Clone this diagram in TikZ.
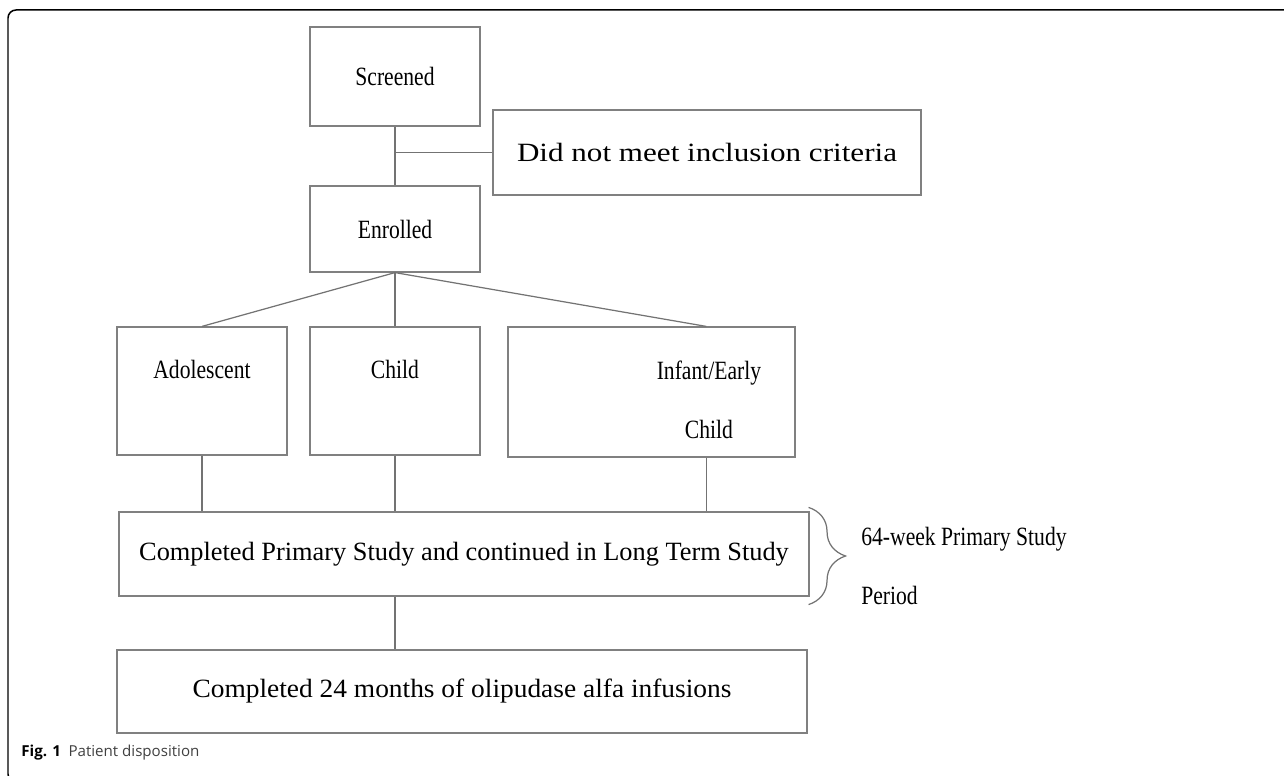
\documentclass[tikz,border=0pt]{standalone}
\usepackage{fontspec}
\setmainfont{Liberation Serif}
\newfontfamily\narrowserif{Liberation Serif}[FakeStretch=0.82]
\newfontfamily\wideserif{Liberation Serif}[FakeStretch=1.18]
\newfontfamily\plainserif{Liberation Serif}[FakeStretch=1.04]
\newfontfamily\capfont{Open Sans}
\newcommand{\boxsize}{\fontsize{15}{33.6}\selectfont}
\newcommand{\toprow}{\rule{0pt}{29pt}}
\usetikzlibrary{calc,decorations.pathreplacing}
\tikzset{
	box/.style={draw=black!50, line width=0.7pt, fill=white, minimum height=#1, inner sep=0pt, align=center, font=\boxsize},
	box/.default=1.7cm,
	narrow/.style={font=\narrowserif\boxsize},
	link/.style={draw=black!55, line width=0.7pt}
}
\begin{document}
\begin{tikzpicture}[x=0.02cm, y=-0.02cm]
	\useasboundingbox (0,0) rectangle (1284,776);
	% outer frame, open to the right
	\draw[line width=0.85pt, rounded corners=0.16cm] (1290,10) -- (8,10) -- (8,782) -- (24,782);

	\node[box=1.98cm, narrow, minimum width=3.4cm] (screen) at (395,76.5) {Screened};
	\node[box=1.7cm, font=\wideserif\boxsize, minimum width=8.56cm] (excl) at (707,152.5) {Did not meet inclusion criteria};
	\node[box=1.72cm, narrow, minimum width=3.4cm] (enrol) at (395,229) {Enrolled};
	\node[box=2.56cm, narrow, minimum width=3.4cm] (adol) at (202,391) {\begin{tabular}{@{}c@{}}\toprow Adolescent\\~\end{tabular}};
	\node[box=2.56cm, narrow, minimum width=3.4cm] (child) at (395,391) {\begin{tabular}{@{}c@{}}\toprow Child\\~\end{tabular}};
	\node[box=2.6cm, narrow, minimum width=5.74cm] (infant) at (651.5,392) {\hspace*{2.3cm}\begin{tabular}{@{}c@{}}\toprow Infant/Early\\Child\end{tabular}};
	\node[box=1.68cm, minimum width=13.8cm] (primary) at (464,554) {Completed Primary Study and continued in Long Term Study};
	\node[box=1.66cm, font=\plainserif\boxsize, minimum width=13.8cm] (final) at (462,691.5) {Completed 24 months of olipudase alfa infusions};
	\node[anchor=west, align=left, inner sep=0pt, narrow] (period) at (861,566) {64-week Primary Study\\Period};

	% connectors
	\draw[link] (screen.south) -- (enrol.north);
	\draw[link] (excl.west -| screen.south) -- (excl.west);
	\coordinate (infanttop) at ($(infant.north west)!0.69!(infant.north east)$);
	\coordinate (infantbot) at ($(infant.south west)!0.69!(infant.south east)$);
	\draw[link] (enrol.south) -- (adol.north);
	\draw[link] (enrol.south) -- (child.north);
	\draw[link] (enrol.south) -- (infanttop);
	\draw[link] (adol.south) -- (adol.south |- primary.north);
	\draw[link] (child.south) -- (child.south |- primary.north);
	\draw[link] (infantbot) -- (infantbot |- primary.north);
	\draw[link] (primary.south -| enrol.south) -- (final.north -| enrol.south);

	% brace for the primary period
	\coordinate (bracetop) at ($(primary.north east)+(-1,-4)$);
	\coordinate (bracebot) at ($(primary.south east)+(-1,8)$);
	\draw[link, decorate, decoration={brace, amplitude=0.74cm}] (bracetop) -- (bracebot);

	\node[anchor=base west, inner sep=0pt, font=\capfont\fontsize{8.6}{10}\selectfont] (caption) at (21,756) {\textbf{Fig. 1}\hspace{0.5em}{\color{black!75}Patient disposition}};
\end{tikzpicture}
\end{document}
